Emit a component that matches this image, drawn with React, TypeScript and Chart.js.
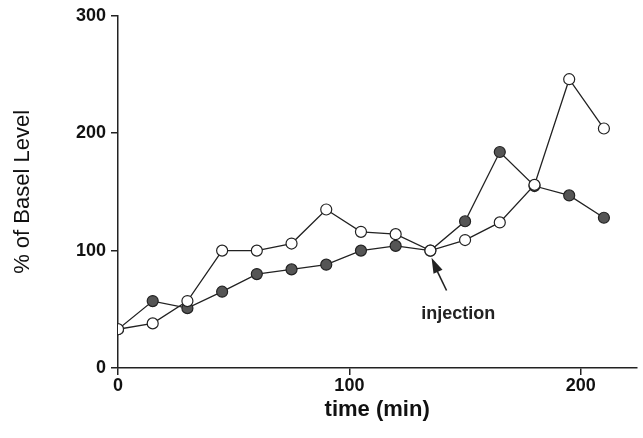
import React, { useEffect, useRef } from "react";
import { Chart, registerables } from "chart.js";
Chart.register(...registerables);

const times = [0, 15, 30, 45, 60, 75, 90, 105, 120, 135, 150, 165, 180, 195, 210];
const openVals = [33, 38, 57, 100, 100, 106, 135, 116, 114, 100, 109, 124, 156, 246, 204];
const filledVals = [33, 57, 51, 65, 80, 84, 88, 100, 104, 100, 125, 184, 155, 147, 128];
const xTicks = [0, 100, 200];
const yTicks = [0, 100, 200, 300];

const annot = {
  id: "annot",
  afterDraw(chart: any) {
    const { ctx, scales } = chart;
    const x = scales.x, y = scales.y;
    const tipX = x.getPixelForValue(135.5), tipY = y.getPixelForValue(94);
    const tailX = x.getPixelForValue(142), tailY = y.getPixelForValue(66);
    ctx.save();
    ctx.strokeStyle = "#222"; ctx.fillStyle = "#222"; ctx.lineWidth = 1.6;
    ctx.beginPath(); ctx.moveTo(tailX, tailY); ctx.lineTo(tipX + 4, tipY + 10); ctx.stroke();
    ctx.beginPath(); ctx.moveTo(tipX, tipY); ctx.lineTo(tipX + 11, tipY + 12); ctx.lineTo(tipX + 2, tipY + 16); ctx.closePath(); ctx.fill();
    ctx.font = "bold 18px 'Liberation Sans', Arial, sans-serif";
    ctx.textAlign = "center"; ctx.textBaseline = "middle";
    ctx.fillText("injection", x.getPixelForValue(147), y.getPixelForValue(46));
    ctx.restore();
  },
};

export default function App() {
  const ref = useRef<HTMLCanvasElement>(null);
  useEffect(() => {
    document.body.style.margin = "0";
    const font = { family: "'Liberation Sans', Arial, sans-serif", weight: "bold" as const, size: 18 };
    const mk = (data: number[], fill: string) => ({
      data: times.map((t, i) => ({ x: t, y: data[i] })),
      borderColor: "#222", borderWidth: 1.3, backgroundColor: fill,
      pointBackgroundColor: fill, pointBorderColor: "#222", pointBorderWidth: 1.2,
      pointRadius: 5.5, showLine: true, tension: 0,
    });
    const chart = new Chart(ref.current!, {
      type: "scatter",
      data: { datasets: [mk(openVals, "#fff"), mk(filledVals, "#555")] },
      options: {
        animation: false, responsive: false,
        layout: { padding: { top: 8, right: 3, bottom: 15, left: 6 } },
        plugins: { legend: { display: false }, tooltip: { enabled: false } },
        scales: {
          x: {
            type: "linear", min: 0, max: 224,
            afterBuildTicks: (s: any) => { s.ticks = xTicks.map((v) => ({ value: v })); },
            grid: { drawOnChartArea: false, color: "#222", tickLength: 7, lineWidth: 1.5 },
            border: { color: "#222", width: 1.5 },
            ticks: { color: "#111", font, padding: 0 },
            title: { display: true, text: "time (min)", color: "#111", font: { ...font, size: 22 }, padding: { top: 0, bottom: 0 } },
          },
          y: {
            min: 0, max: 300,
            afterBuildTicks: (s: any) => { s.ticks = yTicks.map((v) => ({ value: v })); },
            afterFit: (s: any) => { s.width = 112; },
            grid: { drawOnChartArea: false, color: "#222", tickLength: 7, lineWidth: 1.5 },
            border: { color: "#222", width: 1.5 },
            ticks: { color: "#111", font, padding: 5 },
            title: { display: true, text: "% of Basel Level", color: "#111", font: { ...font, size: 22, weight: "normal" } },
          },
        },
      },
      plugins: [annot],
    });
    return () => chart.destroy();
  }, []);
  return <canvas ref={ref} width={643} height={438} style={{ display: "block" }} />;
}
